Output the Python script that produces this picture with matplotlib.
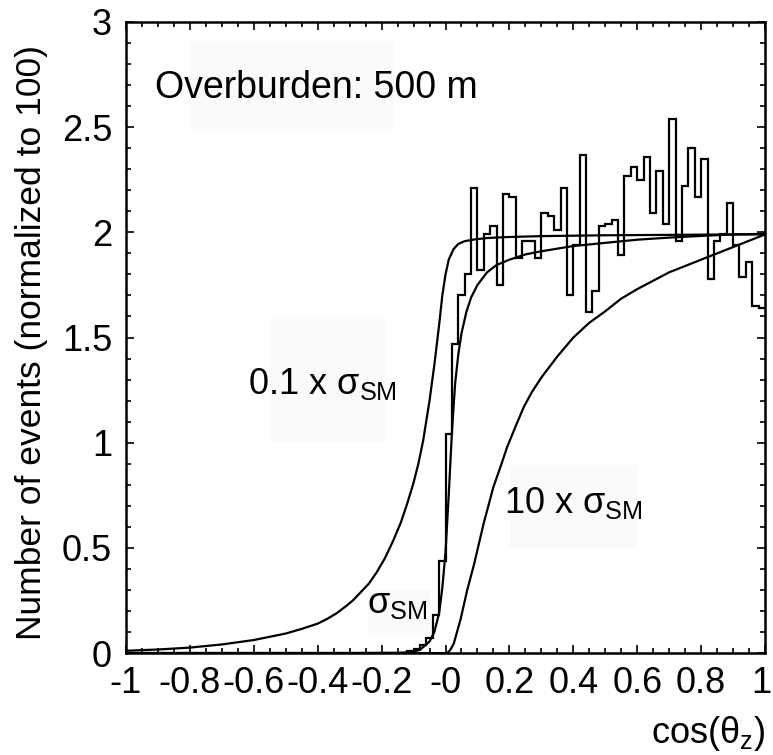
import numpy as np
import matplotlib
matplotlib.use("Agg")
import matplotlib.pyplot as plt
import matplotlib.patches as patches
import matplotlib.transforms as mtransforms
from matplotlib.ticker import MultipleLocator

plt.rcParams['font.family'] = ['Liberation Sans', 'DejaVu Sans']
plt.rcParams['mathtext.fontset'] = 'custom'
plt.rcParams['mathtext.rm'] = 'Liberation Sans'
plt.rcParams['mathtext.it'] = 'Liberation Sans:italic'
plt.rcParams['mathtext.bf'] = 'Liberation Sans:bold'

# simulated events, 100 bins in cos(theta_z), first 44 bins are empty
bin_edges = np.linspace(-1.0, 1.0, 101)
counts = [0.0] * 44 + [
    0.01, 0.02, 0.04, 0.07, 0.18, 0.44, 1.04, 1.47, 1.70, 1.80,
    2.21, 1.82, 1.99, 2.03, 1.75, 2.18, 2.17, 1.88, 1.96, 1.96,
    1.88, 2.09, 2.08, 2.01, 2.21, 1.70, 1.94, 2.37, 1.62, 1.72,
    2.03, 2.04, 2.06, 1.89, 2.27, 2.31, 2.25, 2.36, 2.09, 2.29,
    2.04, 2.54, 1.96, 2.22, 2.40, 2.17, 2.35, 1.78, 1.96, 1.99,
    2.14, 1.94, 1.79, 1.86, 1.65, 1.64,
]

# expected distributions for three cross sections
x_low = [-1.0, -0.9, -0.8, -0.7, -0.6, -0.5, -0.45, -0.4, -0.37, -0.34,
         -0.31, -0.29, -0.265, -0.24, -0.215, -0.19, -0.165, -0.14, -0.12, -0.1,
         -0.085, -0.07, -0.05, -0.035, -0.02, -0.01, 0.0, 0.01, 0.025, 0.04,
         0.06, 0.09, 0.13, 0.2, 0.3, 0.5, 0.7, 0.9, 1.0]
y_low = [0.011, 0.017, 0.026, 0.041, 0.062, 0.093, 0.115, 0.14, 0.163, 0.19,
         0.225, 0.25, 0.29, 0.33, 0.385, 0.45, 0.53, 0.62, 0.71, 0.81,
         0.90, 1.01, 1.20, 1.37, 1.56, 1.70, 1.80, 1.87, 1.92, 1.945,
         1.958, 1.966, 1.973, 1.978, 1.982, 1.986, 1.988, 1.99, 1.99]

x_sm = [-1.0, -0.3, -0.15, -0.11, -0.08, -0.05, -0.035, -0.02, -0.01, 0.0,
        0.01, 0.02, 0.03, 0.04, 0.05, 0.065, 0.08, 0.1, 0.13, 0.16,
        0.2, 0.25, 0.3, 0.4, 0.5, 0.6, 0.7, 0.8, 0.9, 1.0]
y_sm = [0.0, 0.0, 0.001, 0.004, 0.015, 0.055, 0.10, 0.19, 0.31, 0.48,
        0.75, 1.05, 1.28, 1.42, 1.52, 1.62, 1.69, 1.75, 1.81, 1.845,
        1.87, 1.895, 1.91, 1.935, 1.95, 1.965, 1.975, 1.983, 1.99, 1.993]

x_high = [-1.0, 0.0, 0.005, 0.015, 0.026, 0.047, 0.068, 0.089, 0.12, 0.15,
          0.172, 0.193, 0.22, 0.245, 0.27, 0.3, 0.35, 0.4, 0.45, 0.5,
          0.55, 0.6, 0.65, 0.7, 0.75, 0.8, 0.85, 0.9, 0.95, 1.0]
y_high = [0.0, 0.0, 0.0, 0.015, 0.046, 0.16, 0.30, 0.42, 0.62, 0.79,
          0.885, 0.98, 1.08, 1.17, 1.24, 1.31, 1.41, 1.50, 1.57, 1.625,
          1.685, 1.73, 1.77, 1.81, 1.84, 1.87, 1.90, 1.93, 1.96, 1.99]

xtick_vals = [-1.0, -0.8, -0.6, -0.4, -0.2, 0.0, 0.2, 0.4, 0.6, 0.8, 1.0]
xtick_text = ['-1', '-0.8', '-0.6', '-0.4', '-0.2', '-0', '0.2', '0.4', '0.6', '0.8', '1']
ytick_vals = [0, 0.5, 1, 1.5, 2, 2.5, 3]
ytick_text = ['0', '0.5', '1', '1.5', '2', '2.5', '3']

fig = plt.figure(figsize=(7.73, 7.55), dpi=100)
ax = fig.add_axes([0.163, 0.135, 0.8267, 0.8359])

# faint boxes behind the labels
for (bx, by, bw, bh) in [(0.10, 0.83, 0.32, 0.14), (0.225, 0.335, 0.18, 0.195),
                         (0.60, 0.166, 0.20, 0.132), (0.378, 0.032, 0.10, 0.068)]:
    ax.add_patch(patches.Rectangle((bx, by), bw, bh, transform=ax.transAxes,
                                   facecolor='#fafafa', edgecolor='none', zorder=0))

ax.stairs(counts, bin_edges, baseline=None, color='black', lw=1.6, zorder=2)
ax.plot(x_low, y_low, color='black', lw=1.6, zorder=3)
ax.plot(x_sm, y_sm, color='black', lw=1.6, zorder=3)
ax.plot(x_high, y_high, color='black', lw=1.6, zorder=3)

ax.text(-0.91, 2.685, 'Overburden: 500 m', fontsize=27, va='center', ha='left')
ax.text(-0.618, 1.23, r'0.1 x $\mathrm{σ}_{\mathrm{SM}}$', fontsize=26, va='baseline')
ax.text(-0.247, 0.19, r'$\mathrm{σ}_{\mathrm{SM}}$', fontsize=26, va='baseline')
ax.text(0.182, 0.668, r'10 x $\mathrm{σ}_{\mathrm{SM}}$', fontsize=26, va='baseline')

ax.set_xlim(-1, 1)
ax.set_ylim(0, 3)
ax.set_xticks(xtick_vals)
ax.set_xticklabels(xtick_text)
ax.set_yticks(ytick_vals)
ax.set_yticklabels(ytick_text)
ax.xaxis.set_minor_locator(MultipleLocator(0.05))
ax.yaxis.set_minor_locator(MultipleLocator(0.1))
ax.tick_params(which='both', direction='in', top=True, right=True, width=1.2)
ax.tick_params(which='major', length=6, labelsize=26)
ax.tick_params(axis='x', which='major', pad=9)
ax.tick_params(axis='y', which='major', pad=10)
ax.tick_params(which='minor', length=3.5)
for s in ax.spines.values():
    s.set_linewidth(1.8)

# keep the last x label inside the figure
last = ax.get_xticklabels()[-1]
last.set_transform(last.get_transform() +
                   mtransforms.ScaledTranslation(-3 / 72, 0, fig.dpi_scale_trans))

ax.text(1.0, -0.127, r'cos(θ$_{\mathrm{z}}$)', fontsize=26, transform=ax.transAxes,
        ha='right', va='center')
fig.text(0.041, 0.547, 'Number of events (normalized to 100)', fontsize=25.5,
         rotation=90, ha='center', va='center')

fig.savefig('out.png', dpi=100)
